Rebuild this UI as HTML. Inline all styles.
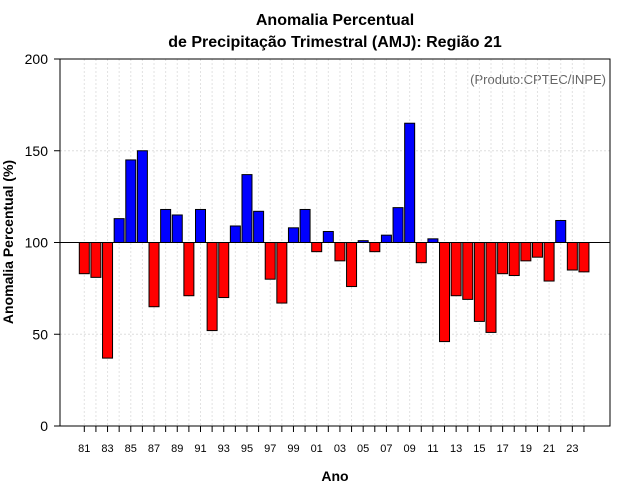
<!DOCTYPE html>
<html><head><meta charset="utf-8"><style>
body{margin:0;background:#fff}
svg{display:block;font-family:"Liberation Sans",Arial,sans-serif}
</style></head><body>
<svg id="chart" width="640" height="500" viewBox="0 0 640 500">
<text x="335" y="25" text-anchor="middle" font-size="16" font-weight="bold">Anomalia Percentual</text>
<text x="335" y="47" text-anchor="middle" font-size="16" font-weight="bold">de Precipitação Trimestral (AMJ): Região 21</text>
<text x="606" y="84" text-anchor="end" font-size="13" fill="#666">(Produto:CPTEC/INPE)</text>
<text x="335" y="481" text-anchor="middle" font-size="14" font-weight="bold">Ano</text>
<text transform="translate(13,242) rotate(-90)" text-anchor="middle" font-size="14" font-weight="bold">Anomalia Percentual (%)</text>
<g id="grid"></g><g id="bars"></g><g id="axes"></g>
</svg>
<script>
const years=[1981,1982,1983,1984,1985,1986,1987,1988,1989,1990,1991,1992,1993,1994,1995,1996,1997,1998,1999,2000,2001,2002,2003,2004,2005,2006,2007,2008,2009,2010,2011,2012,2013,2014,2015,2016,2017,2018,2019,2020,2021,2022,2023,2024];
const values=[83,81,37,113,145,150,65,118,115,71,118,52,70,109,137,117,80,67,108,118,95,106,90,76,101,95,104,119,165,89,102,46,71,69,57,51,83,82,90,92,79,112,85,84];
const yTicks=[0,50,100,150,200];
const NS='http://www.w3.org/2000/svg';
const L=60,R=610,T=59,B=426;
const y=v=>B-(v/200)*(B-T);
const x=yr=>84.3+(yr-1981)*11.62;
function mk(tag,attrs,parent,txt){const e=document.createElementNS(NS,tag);for(const k in attrs)e.setAttribute(k,attrs[k]);if(txt!==undefined)e.textContent=txt;document.getElementById(parent).appendChild(e);return e;}
yTicks.forEach(v=>{
 if(v>0&&v<200){const g=mk('line',{x1:L,x2:R,y1:y(v),y2:y(v),stroke:'#ddd','stroke-dasharray':'2,2'},'grid');
 
 }
 const t=mk('line',{x1:L-6,x2:L,y1:y(v),y2:y(v),stroke:'#000'},'axes');
 
 
 const lb=mk('text',{x:L-12,y:y(v)+5,'text-anchor':'end','font-size':14},'axes',String(v));
 
 
});
years.forEach((yr,i)=>{
 const cx=x(yr);
 const g=mk('line',{x1:cx,x2:cx,y1:T,y2:B,stroke:'#e2e2e2','stroke-dasharray':'2,2'},'grid');
 
 
 const v=values[i];
 const b=mk('rect',{x:cx-5,width:10,y:Math.min(y(v),y(100)),height:Math.abs(y(v)-y(100)),fill:v>=100?'#0000ff':'#ff0000',stroke:'#000','stroke-width':1},'bars');
 
 
 const t=mk('line',{x1:cx,x2:cx,y1:B,y2:B+6,stroke:'#000'},'axes');
 
 
 if(yr%2===1){const lb=mk('text',{x:cx,y:452,'text-anchor':'middle','font-size':11},'axes',String(yr%100).padStart(2,'0'));
 
 }
});
const base=mk('line',{x1:L,x2:R,y1:y(100),y2:y(100),stroke:'#000'},'axes');


const box=mk('rect',{x:L,y:T,width:R-L,height:B-T,fill:'none',stroke:'#000'},'axes');


</script>
</body></html>
